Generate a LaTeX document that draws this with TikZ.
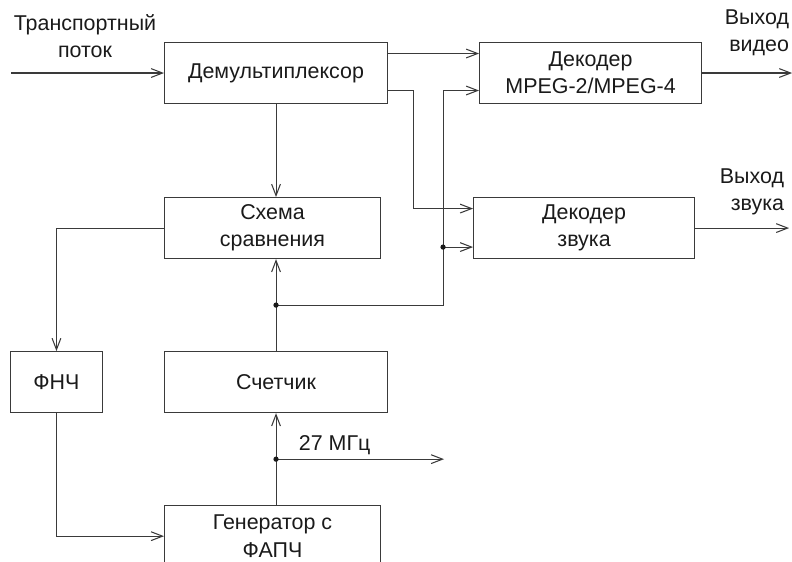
\documentclass[tikz,border=0pt]{standalone}
\usepackage{fontspec}
\setmainfont{Liberation Sans}
\usetikzlibrary{positioning, arrows.meta, calc}
\definecolor{ink}{HTML}{1a1a1a}
\definecolor{rule}{HTML}{3a3a3a}

\begin{document}
\begin{tikzpicture}[every node/.style={font=\fontsize{12.2}{15.4}\selectfont, align=center, text=ink},
  block/.style={draw=rule, line width=0.6pt, minimum height=1.22cm, inner sep=0pt},
  arr/.style={-{Straight Barb[length=6.5pt, width=5pt]}, draw=rule, line width=0.6pt},
  wire/.style={draw=rule, line width=0.6pt}]
\useasboundingbox (0,0) rectangle (15.84,-11.24);
\clip (0,0) rectangle (15.84,-11.24);

% blocks
\node[block, minimum width=4.46cm, anchor=north west] (demux) at (3.28,-0.84) {Демультиплексор};
\node[block, minimum width=4.44cm, right=1.82cm of demux] (vdec) {Декодер\\MPEG-2/MPEG-4};
\node[block, minimum width=4.32cm, below=1.86cm of demux.south west, anchor=north west] (comp) {Схема\\сравнения};
\node[block, minimum width=4.42cm, right=1.84cm of comp] (adec) {Декодер\\звука};
\node[block, minimum width=4.46cm, below=1.84cm of comp.south west, anchor=north west] (cnt) {Счетчик};
\node[block, minimum width=1.84cm, left=1.22cm of cnt] (lpf) {ФНЧ};
\node[block, minimum width=4.32cm, below=1.84cm of cnt.south west, anchor=north west] (gen) {Генератор с\\ФАПЧ};

% inputs and outputs
\coordinate[left=3.06cm of demux.west] (in);
\coordinate[right=1.8cm of vdec.east] (vout);
\coordinate[right=1.88cm of adec.east] (aout);
\node (inlbl) at (1.7,-0.72) {Транспортный\\поток};
\node[align=right] (voutlbl) at (15.14,-0.66) {Выход\\видео};
\node[align=right] (aoutlbl) at (15.04,-3.84) {Выход\\звука};
\draw[arr] (in) -- (demux);
\draw[arr] (vdec) -- (vout);
\draw[arr] (adec) -- (aout);

% demultiplexer
\draw[arr] ([yshift=0.39cm]demux.east) -- ([yshift=0.39cm]vdec.west);
\draw[arr] ([yshift=-0.35cm]demux.east) -- ++(0.5cm,0) |- ([yshift=0.39cm]adec.west);
\draw[arr] (demux.south) -- (demux.south |- comp.north);

% counter feedback
\coordinate (tap) at ($(cnt.north)!0.5!(cnt.north |- comp.south)$);
\coordinate[left=0.6cm of adec.west] (bus);
\coordinate (vin) at ([yshift=-0.35cm]vdec.west);
\coordinate (ain) at ([yshift=-0.38cm]adec.west);
\draw[arr] (cnt.north) -- (cnt.north |- comp.south);
\draw[arr] (tap) -| (bus |- vin) -- (vin);
\draw[arr] (bus |- ain) -- (ain);
\fill[ink] (tap) circle (1.5pt);
\fill[ink] (bus |- ain) circle (1.5pt);

% PLL loop
\draw[arr] (comp.west) -| (lpf.north);
\draw[arr] (lpf.south) |- (gen.west);
\coordinate (clk) at ($(cnt.south)!0.5!(cnt.south |- gen.north)$);
\coordinate[right=3.36cm of clk] (clkout);
\draw[arr] (cnt.south |- gen.north) -- (cnt.south);
\draw[arr] (clk) -- (clkout);
\fill[ink] (clk) circle (1.5pt);
\node[above right=0.08cm and 0.45cm of clk, inner sep=0pt] (freq) {27 МГц};
\end{tikzpicture}
\end{document}
